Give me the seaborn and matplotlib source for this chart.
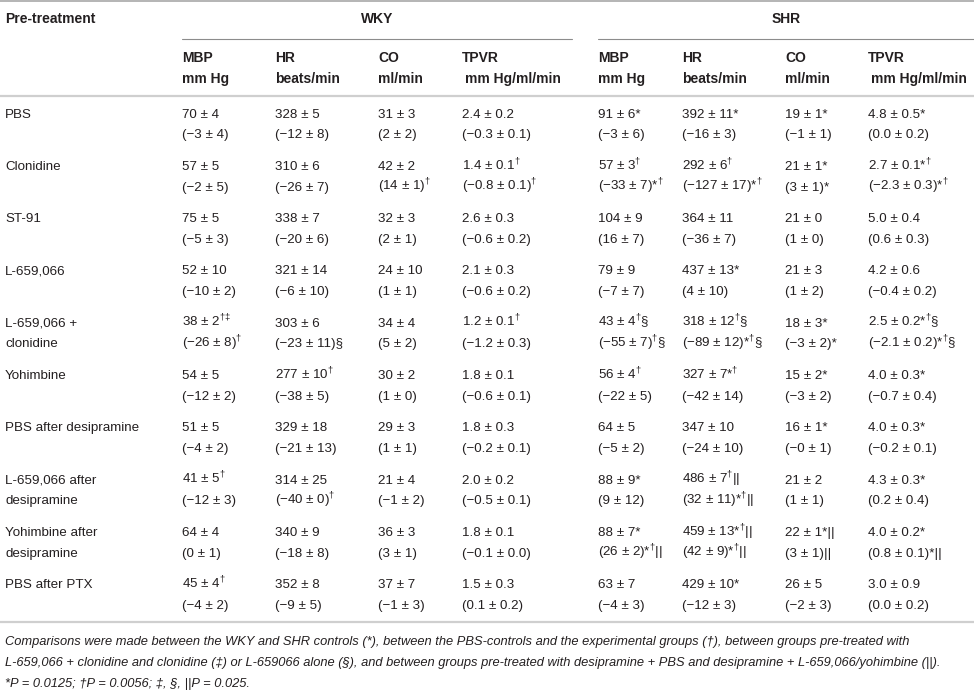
import re
import matplotlib
matplotlib.use("Agg")
import matplotlib.pyplot as plt
import seaborn as sns

# -------------------------------------
# Table data
# -------------------------------------
treatments = ["PBS", "Clonidine", "ST-91", "L-659,066", "L-659,066 +\nclonidine",
              "Yohimbine", "PBS after desipramine", "L-659,066 after\ndesipramine",
              "Yohimbine after\ndesipramine", "PBS after PTX"]

groups = ["WKY", "SHR"]
measures = ["MBP", "HR", "CO", "TPVR"]
units = ["mm Hg", "beats/min", "ml/min", "mm Hg/ml/min"]

# each cell: (value, change)  ^{..} marks a superscript
wky_mbp = [("70 ± 4", "(−3 ± 4)"), ("57 ± 5", "(−2 ± 5)"), ("75 ± 5", "(−5 ± 3)"),
           ("52 ± 10", "(−10 ± 2)"), ("38 ± 2^{†‡}", "(−26 ± 8)^{†}"), ("54 ± 5", "(−12 ± 2)"),
           ("51 ± 5", "(−4 ± 2)"), ("41 ± 5^{†}", "(−12 ± 3)"), ("64 ± 4", "(0 ± 1)"),
           ("45 ± 4^{†}", "(−4 ± 2)")]
wky_hr = [("328 ± 5", "(−12 ± 8)"), ("310 ± 6", "(−26 ± 7)"), ("338 ± 7", "(−20 ± 6)"),
          ("321 ± 14", "(−6 ± 10)"), ("303 ± 6", "(−23 ± 11)§"), ("277 ± 10^{†}", "(−38 ± 5)"),
          ("329 ± 18", "(−21 ± 13)"), ("314 ± 25", "(−40 ± 0)^{†}"), ("340 ± 9", "(−18 ± 8)"),
          ("352 ± 8", "(−9 ± 5)")]
wky_co = [("31 ± 3", "(2 ± 2)"), ("42 ± 2", "(14 ± 1)^{†}"), ("32 ± 3", "(2 ± 1)"),
          ("24 ± 10", "(1 ± 1)"), ("34 ± 4", "(5 ± 2)"), ("30 ± 2", "(1 ± 0)"),
          ("29 ± 3", "(1 ± 1)"), ("21 ± 4", "(−1 ± 2)"), ("36 ± 3", "(3 ± 1)"),
          ("37 ± 7", "(−1 ± 3)")]
wky_tpvr = [("2.4 ± 0.2", "(−0.3 ± 0.1)"), ("1.4 ± 0.1^{†}", "(−0.8 ± 0.1)^{†}"),
            ("2.6 ± 0.3", "(−0.6 ± 0.2)"), ("2.1 ± 0.3", "(−0.6 ± 0.2)"),
            ("1.2 ± 0.1^{†}", "(−1.2 ± 0.3)"), ("1.8 ± 0.1", "(−0.6 ± 0.1)"),
            ("1.8 ± 0.3", "(−0.2 ± 0.1)"), ("2.0 ± 0.2", "(−0.5 ± 0.1)"),
            ("1.8 ± 0.1", "(−0.1 ± 0.0)"), ("1.5 ± 0.3", "(0.1 ± 0.2)")]
shr_mbp = [("91 ± 6*", "(−3 ± 6)"), ("57 ± 3^{†}", "(−33 ± 7)*^{†}"), ("104 ± 9", "(16 ± 7)"),
           ("79 ± 9", "(−7 ± 7)"), ("43 ± 4^{†}§", "(−55 ± 7)^{†}§"), ("56 ± 4^{†}", "(−22 ± 5)"),
           ("64 ± 5", "(−5 ± 2)"), ("88 ± 9*", "(9 ± 12)"), ("88 ± 7*", "(26 ± 2)*^{†}||"),
           ("63 ± 7", "(−4 ± 3)")]
shr_hr = [("392 ± 11*", "(−16 ± 3)"), ("292 ± 6^{†}", "(−127 ± 17)*^{†}"), ("364 ± 11", "(−36 ± 7)"),
          ("437 ± 13*", "(4 ± 10)"), ("318 ± 12^{†}§", "(−89 ± 12)*^{†}§"), ("327 ± 7*^{†}", "(−42 ± 14)"),
          ("347 ± 10", "(−24 ± 10)"), ("486 ± 7^{†}||", "(32 ± 11)*^{†}||"),
          ("459 ± 13*^{†}||", "(42 ± 9)*^{†}||"), ("429 ± 10*", "(−12 ± 3)")]
shr_co = [("19 ± 1*", "(−1 ± 1)"), ("21 ± 1*", "(3 ± 1)*"), ("21 ± 0", "(1 ± 0)"),
          ("21 ± 3", "(1 ± 2)"), ("18 ± 3*", "(−3 ± 2)*"), ("15 ± 2*", "(−3 ± 2)"),
          ("16 ± 1*", "(−0 ± 1)"), ("21 ± 2", "(1 ± 1)"), ("22 ± 1*||", "(3 ± 1)||"),
          ("26 ± 5", "(−2 ± 3)")]
shr_tpvr = [("4.8 ± 0.5*", "(0.0 ± 0.2)"), ("2.7 ± 0.1*^{†}", "(−2.3 ± 0.3)*^{†}"),
            ("5.0 ± 0.4", "(0.6 ± 0.3)"), ("4.2 ± 0.6", "(−0.4 ± 0.2)"),
            ("2.5 ± 0.2*^{†}§", "(−2.1 ± 0.2)*^{†}§"), ("4.0 ± 0.3*", "(−0.7 ± 0.4)"),
            ("4.0 ± 0.3*", "(−0.2 ± 0.1)"), ("4.3 ± 0.3*", "(0.2 ± 0.4)"),
            ("4.0 ± 0.2*", "(0.8 ± 0.1)*||"), ("3.0 ± 0.9", "(0.0 ± 0.2)")]

columns = [wky_mbp, wky_hr, wky_co, wky_tpvr, shr_mbp, shr_hr, shr_co, shr_tpvr]

footnote = [
    "Comparisons were made between the WKY and SHR controls (*), between the PBS-controls and the experimental groups (†), between groups pre-treated with",
    "L-659,066 + clonidine and clonidine (‡) or L-659066 alone (§), and between groups pre-treated with desipramine + PBS and desipramine + L-659,066/yohimbine (||).",
    "*P = 0.0125; †P = 0.0056; ‡, §, ||P = 0.025.",
]

# -------------------------------------
# Layout
# -------------------------------------
sns.set_theme(style="white")
plt.rcParams["font.family"] = ["Liberation Sans", "DejaVu Sans"]
plt.rcParams["mathtext.fontset"] = "custom"
plt.rcParams["mathtext.rm"] = "Liberation Sans"
plt.rcParams["mathtext.it"] = "Liberation Sans:italic"
plt.rcParams["mathtext.bf"] = "Liberation Sans:bold"

W, H = 974, 691
fig = plt.figure(figsize=(W / 100, H / 100), dpi=100)
ax = fig.add_axes([0, 0, 1, 1])
ax.set_xlim(0, W)
ax.set_ylim(H, 0)
ax.axis("off")

TXT = "#231f20"
FS = 9.6
FSB = 10.0
BL = 4.5  # centre -> baseline offset in pixels
col_x = [182, 275, 378, 462, 598, 682, 785, 868]


def fmt(s):
    return re.sub(r"\^\{(.*?)\}", lambda m: r"$^{\mathrm{" + m.group(1) + "}}$", s)


def put(x, y, s, **kw):
    ax.text(x, y + BL, s, color=TXT, va="baseline", **kw)


# rules
ax.plot([0, W], [1, 1], color="#a8a8a8", lw=1.2)
ax.plot([182, 572], [38.5, 38.5], color="#8c8c8c", lw=0.8)
ax.plot([598, W], [38.5, 38.5], color="#8c8c8c", lw=0.8)
ax.plot([0, W], [95.5, 95.5], color="#cfcfcf", lw=1.6)
ax.plot([0, W], [622, 622], color="#cfcfcf", lw=1.6)

# headers
put(5, 18, "Pre-treatment", fontsize=FSB, fontweight="bold")
put(377, 18, groups[0], fontsize=FSB, fontweight="bold", ha="center")
put(786, 18, groups[1], fontsize=FSB, fontweight="bold", ha="center")
for i, x in enumerate(col_x):
    put(x, 57, measures[i % 4], fontsize=FSB, fontweight="bold")
    ux = x + 3 if i % 4 == 3 else x
    put(ux, 78, units[i % 4], fontsize=FSB, fontweight="bold")

# body
row_y0, row_step, line_gap = 113, 52.3, 20.7
for r, name in enumerate(treatments):
    y = row_y0 + r * row_step
    for k, part in enumerate(name.split("\n")):
        put(5, y + k * line_gap, part, fontsize=FS)
    for c, x in enumerate(col_x):
        val, chg = columns[c][r]
        put(x, y, fmt(val), fontsize=FS)
        put(x, y + line_gap, fmt(chg), fontsize=FS)

# footnote
for k, line in enumerate(footnote):
    put(5, 640 + k * 21.5, line, fontsize=9.25, style="italic")

fig.savefig("out.png", dpi=100)
